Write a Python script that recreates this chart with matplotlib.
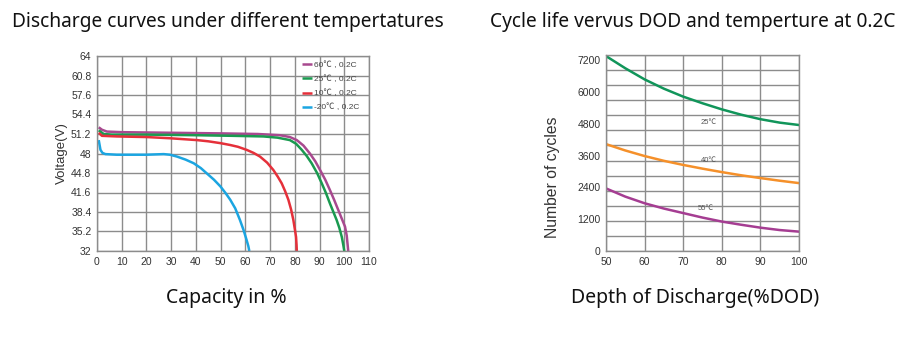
import numpy as np
import matplotlib.pyplot as plt
from matplotlib import font_manager

# tick font: narrow arial-like if available
names = {f.name for f in font_manager.fontManager.ttflist}
tick_font = 'Liberation Sans Narrow' if 'Liberation Sans Narrow' in names else 'Liberation Sans'
tick_fam = [tick_font, 'Noto Sans CJK SC', 'DejaVu Sans']
title_font = 'Noto Sans'

# ---- discharge curves (capacity %, voltage) ----
cap_60 = [0.7, 2, 4, 10, 30, 50, 65, 74, 78, 80.8, 83.5, 86.1, 88.3, 90.2, 92.3, 94.2,
          96, 97.6, 99, 100.3, 101, 101.6]
v_60 = [52.3, 51.9, 51.6, 51.5, 51.4, 51.3, 51.2, 51.0, 50.7, 50.2, 49.3, 48.0, 46.7,
        45.3, 43.7, 42.0, 40.3, 38.7, 37.3, 36.0, 34.5, 32.0]
cap_25 = [0.7, 2.7, 6, 20, 40, 55, 67.3, 73, 78, 80.5, 82.8, 84.8, 86.8, 89, 90.9, 92.6,
          94.2, 95.6, 96.9, 98, 99, 99.6, 100]
v_25 = [51.8, 51.2, 51.1, 51.1, 51.0, 50.9, 50.8, 50.6, 50.2, 49.6, 48.6, 47.6, 46.4,
        44.8, 43.1, 41.5, 39.8, 38.4, 37.1, 35.8, 34.3, 33.0, 32.0]
cap_10 = [0.7, 2, 8, 20, 29.6, 40.4, 45, 49.9, 53.8, 57, 60.5, 63.3, 65.9, 68.8, 71.3,
          73.1, 74.7, 76.1, 77.4, 78.5, 79.4, 80, 80.5, 80.7, 80.8]
v_10 = [51.4, 50.9, 50.8, 50.7, 50.5, 50.2, 50.0, 49.7, 49.4, 49.1, 48.6, 48.1, 47.5,
        46.5, 45.3, 44.2, 43.1, 41.8, 40.4, 38.8, 37.1, 35.6, 34.3, 33.0, 32.0]
cap_m20 = [0.7, 1.4, 2.2, 3.4, 8, 20, 27, 29.5, 32.3, 35.8, 39.1, 42, 44.5, 47.3, 49.9,
           52, 53.9, 55.9, 57.8, 59.3, 60.5, 61.2, 61.6]
v_m20 = [50.2, 48.6, 48.1, 47.9, 47.8, 47.8, 47.9, 47.8, 47.5, 47.0, 46.4, 45.6, 44.7,
         43.7, 42.6, 41.5, 40.4, 39.0, 37.1, 35.4, 33.8, 32.8, 32.0]
discharge_labels = ['60℃ , 0.2C', '25℃ , 0.2C', '10℃ , 0.2C', '-20℃ , 0.2C']
discharge_colors = ['#a8498f', '#1a9a50', '#e5303a', '#1ba5e1']

# ---- cycle life vs DOD ----
dod = [50, 55, 60, 65, 70, 75, 80, 85, 90, 95, 100]
cyc_25 = [7350, 6890, 6470, 6120, 5820, 5570, 5340, 5140, 4970, 4840, 4750]
cyc_40 = [4030, 3790, 3580, 3400, 3245, 3105, 2975, 2855, 2750, 2650, 2560]
cyc_55 = [2360, 2050, 1800, 1600, 1430, 1260, 1110, 990, 880, 790, 730]
cycle_labels = ['25℃', '40℃', '55℃']
cycle_label_pos = [(76.6, 4840), (76.6, 3400), (75.8, 1610)]
cycle_colors = ['#11955a', '#f5902a', '#a53d92']

v_ticks = [32, 35.2, 38.4, 41.6, 44.8, 48, 51.2, 54.4, 57.6, 60.8, 64]
v_ticklabels = ['32', '35.2', '38.4', '41.6', '44.8', '48', '51.2', '54.4', '57.6', '60.8', '64']
dod_ticks = [50, 60, 70, 80, 90, 100]
cycle_ticks = [0, 1200, 2400, 3600, 4800, 6000, 7200]

grid_c = '#8c8c8c'
tick_c = '#333333'

W, H = 924, 341
fig = plt.figure(figsize=(W / 100, H / 100), dpi=100)

def box(x0, y0, x1, y1):
    return [x0 / W, 1 - y1 / H, (x1 - x0) / W, (y1 - y0) / H]

def style(ax):
    for s in ax.spines.values():
        s.set_color(grid_c)
        s.set_linewidth(1.0)
    ax.tick_params(length=0, labelsize=7.5, colors=tick_c, pad=4)
    for t in ax.get_xticklabels() + ax.get_yticklabels():
        t.set_family(tick_fam)

# left panel
ax1 = fig.add_axes(box(97, 56, 369, 251))
for x, y, c, lab in zip([cap_60, cap_25, cap_10, cap_m20], [v_60, v_25, v_10, v_m20],
                        discharge_colors, discharge_labels):
    ax1.plot(x, y, color=c, lw=1.8, label=lab, solid_capstyle='butt')
ax1.set_xlim(0, 110)
ax1.set_ylim(32, 64)
ax1.set_xticks(range(0, 111, 10))
ax1.set_yticks(v_ticks)
ax1.set_yticklabels(v_ticklabels)
ax1.grid(True, color=grid_c, lw=1.0)
ax1.set_axisbelow(True)
style(ax1)
ax1.set_ylabel('Voltage(V)', family=tick_fam, fontsize=9.5, color=tick_c, labelpad=2)
leg = ax1.legend(loc='upper right', bbox_to_anchor=(0.985, 1.0), frameon=False,
                 handlelength=1.1, handletextpad=0.3, labelspacing=0.75,
                 borderaxespad=0.25, prop={'family': tick_fam, 'size': 6})
for t in leg.get_texts():
    t.set_color('#444444')
fig.text(12 / W, 1 - 22 / H, 'Discharge curves under different tempertatures',
         family=title_font, fontsize=13.8, va='center', ha='left', color='#111111')
fig.text(226 / W, 1 - 298 / H, 'Capacity in %', family=title_font, fontsize=14,
         va='center', ha='center', color='#111111')

# right panel
ax2 = fig.add_axes(box(606, 55, 799, 251))
ymax = 7390
for y, c in zip([cyc_25, cyc_40, cyc_55], cycle_colors):
    ax2.plot(dod, y, color=c, lw=1.8)
ax2.set_xlim(50, 100)
ax2.set_ylim(0, ymax)
ax2.set_xticks(dod_ticks)
ax2.set_yticks(cycle_ticks)
ax2.grid(True, axis='x', color=grid_c, lw=1.0)
for g in np.linspace(0, ymax, 14):
    ax2.axhline(g, color=grid_c, lw=1.0, zorder=0)
ax2.set_axisbelow(True)
style(ax2)
for lab, (lx, ly) in zip(cycle_labels, cycle_label_pos):
    ax2.text(lx, ly, lab, fontsize=5.5, color='#555555', family=tick_fam,
             ha='center', va='center')
ax2.set_ylabel('Number of cycles', family=tick_fam, fontsize=11.3, color=tick_c)
ax2.yaxis.set_label_coords(-0.238, 0.378)
fig.text(490 / W, 1 - 22 / H, 'Cycle life vervus DOD and temperture at 0.2C',
         family=title_font, fontsize=13.8, va='center', ha='left', color='#111111')
fig.text(695 / W, 1 - 298 / H, 'Depth of Discharge(%DOD)', family=title_font,
         fontsize=14, va='center', ha='center', color='#111111')

fig.savefig('out.png', dpi=100, facecolor='white')
